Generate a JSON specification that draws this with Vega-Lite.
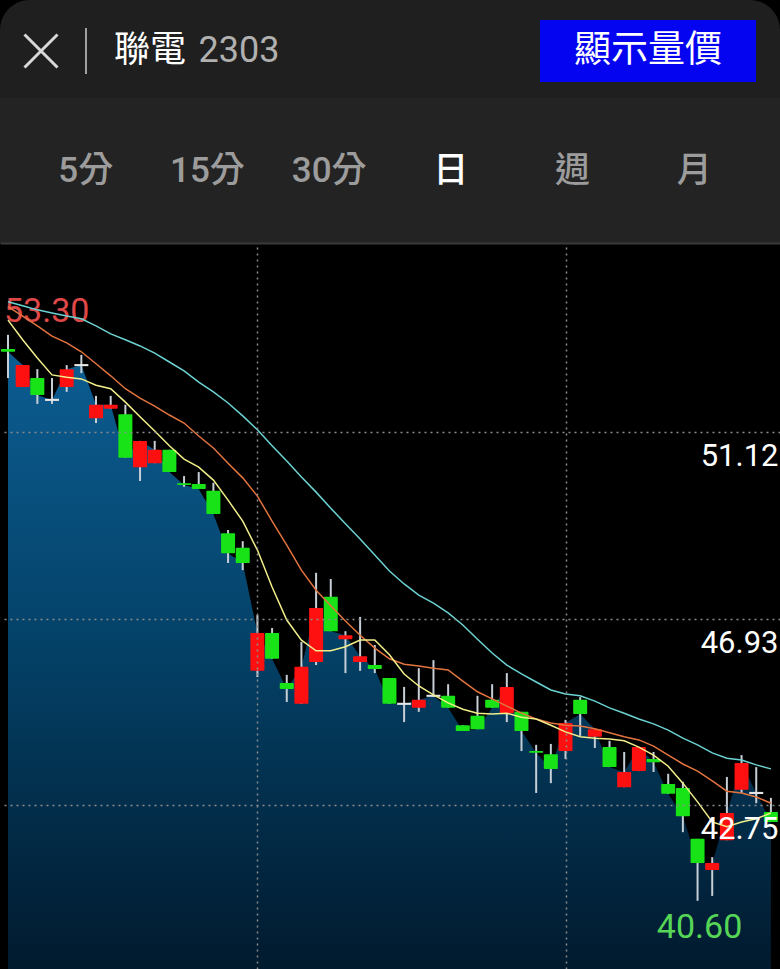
{
  "$schema": "https://vega.github.io/schema/vega-lite/v6.json",
  "background": "#000000",
  "padding": 0,
  "spacing": 0,
  "config": {"view": {"stroke": null}, "concat": {"spacing": 0}},
  "datasets": {
    "candles": [
      {"i":1,"o":52.98,"h":53.30,"l":52.33,"c":52.92,"m5":53.63,"m10":53.93,"m20":54.04},
      {"i":2,"o":52.13,"h":52.62,"l":52.13,"c":52.62,"m5":53.19,"m10":53.72,"m20":53.95},
      {"i":3,"o":52.33,"h":52.53,"l":51.75,"c":51.95,"m5":52.78,"m10":53.50,"m20":53.86},
      {"i":4,"o":51.84,"h":52.33,"l":51.75,"c":51.84,"m5":52.40,"m10":53.27,"m20":53.79},
      {"i":5,"o":52.13,"h":52.62,"l":52.02,"c":52.53,"m5":52.35,"m10":53.12,"m20":53.72},
      {"i":6,"o":52.62,"h":52.85,"l":52.44,"c":52.62,"m5":52.31,"m10":52.92,"m20":53.66},
      {"i":7,"o":51.43,"h":51.93,"l":51.32,"c":51.73,"m5":52.17,"m10":52.65,"m20":53.50},
      {"i":8,"o":51.64,"h":51.93,"l":51.64,"c":51.73,"m5":52.09,"m10":52.38,"m20":53.32},
      {"i":9,"o":51.52,"h":51.73,"l":50.54,"c":50.54,"m5":51.79,"m10":52.09,"m20":53.19},
      {"i":10,"o":50.33,"h":50.92,"l":50.02,"c":50.92,"m5":51.46,"m10":51.88,"m20":53.05},
      {"i":11,"o":50.42,"h":50.92,"l":50.42,"c":50.72,"m5":51.14,"m10":51.70,"m20":52.89},
      {"i":12,"o":50.72,"h":50.72,"l":50.22,"c":50.22,"m5":50.81,"m10":51.50,"m20":52.69},
      {"i":13,"o":49.97,"h":50.13,"l":49.89,"c":49.93,"m5":50.51,"m10":51.32,"m20":52.49},
      {"i":14,"o":49.95,"h":50.22,"l":49.84,"c":49.84,"m5":50.33,"m10":51.03,"m20":52.24},
      {"i":15,"o":49.80,"h":49.98,"l":49.28,"c":49.28,"m5":50.04,"m10":50.76,"m20":52.02},
      {"i":16,"o":48.85,"h":48.92,"l":48.18,"c":48.40,"m5":49.59,"m10":50.42,"m20":51.77},
      {"i":17,"o":48.52,"h":48.67,"l":48.02,"c":48.18,"m5":49.12,"m10":50.09,"m20":51.48},
      {"i":18,"o":45.76,"h":47.01,"l":45.62,"c":46.61,"m5":48.47,"m10":49.68,"m20":51.17},
      {"i":19,"o":46.61,"h":46.72,"l":46.03,"c":46.03,"m5":47.64,"m10":49.12,"m20":50.81},
      {"i":20,"o":45.49,"h":45.67,"l":45.06,"c":45.35,"m5":46.90,"m10":48.58,"m20":50.47},
      {"i":21,"o":45.02,"h":46.41,"l":45.02,"c":45.85,"m5":46.45,"m10":48.02,"m20":50.11},
      {"i":22,"o":45.96,"h":47.96,"l":45.89,"c":47.17,"m5":46.21,"m10":47.57,"m20":49.77},
      {"i":23,"o":47.42,"h":47.82,"l":46.65,"c":46.65,"m5":46.21,"m10":47.22,"m20":49.41},
      {"i":24,"o":46.47,"h":46.65,"l":45.71,"c":46.56,"m5":46.30,"m10":46.88,"m20":49.06},
      {"i":25,"o":45.96,"h":46.97,"l":45.76,"c":46.09,"m5":46.45,"m10":46.56,"m20":48.72},
      {"i":26,"o":45.89,"h":46.34,"l":45.71,"c":45.80,"m5":46.45,"m10":46.27,"m20":48.36},
      {"i":27,"o":45.60,"h":45.60,"l":45.02,"c":45.02,"m5":46.12,"m10":46.03,"m20":48.00},
      {"i":28,"o":45.02,"h":45.40,"l":44.61,"c":45.02,"m5":45.69,"m10":45.91,"m20":47.71},
      {"i":29,"o":44.93,"h":45.82,"l":44.84,"c":45.11,"m5":45.42,"m10":45.87,"m20":47.46},
      {"i":30,"o":45.20,"h":46.00,"l":45.18,"c":45.20,"m5":45.22,"m10":45.82,"m20":47.28},
      {"i":31,"o":45.20,"h":45.46,"l":44.93,"c":44.93,"m5":45.04,"m10":45.78,"m20":47.06},
      {"i":32,"o":44.54,"h":44.54,"l":44.41,"c":44.41,"m5":44.90,"m10":45.53,"m20":46.79},
      {"i":33,"o":44.75,"h":45.20,"l":44.45,"c":44.45,"m5":44.81,"m10":45.29,"m20":46.47},
      {"i":34,"o":45.11,"h":45.46,"l":44.93,"c":44.93,"m5":44.79,"m10":45.13,"m20":46.16},
      {"i":35,"o":44.81,"h":45.71,"l":44.61,"c":45.40,"m5":44.81,"m10":44.97,"m20":45.89},
      {"i":36,"o":44.84,"h":44.84,"l":43.96,"c":44.41,"m5":44.72,"m10":44.81,"m20":45.69},
      {"i":37,"o":43.96,"h":44.10,"l":43.02,"c":43.92,"m5":44.68,"m10":44.68,"m20":45.51},
      {"i":38,"o":43.89,"h":44.12,"l":43.24,"c":43.56,"m5":44.54,"m10":44.59,"m20":45.33},
      {"i":39,"o":43.96,"h":44.66,"l":43.78,"c":44.59,"m5":44.39,"m10":44.54,"m20":45.24},
      {"i":40,"o":45.11,"h":45.17,"l":44.30,"c":44.79,"m5":44.28,"m10":44.52,"m20":45.20},
      {"i":41,"o":44.28,"h":44.45,"l":44.03,"c":44.45,"m5":44.25,"m10":44.46,"m20":45.08},
      {"i":42,"o":44.05,"h":44.19,"l":43.60,"c":43.60,"m5":44.23,"m10":44.37,"m20":44.93},
      {"i":43,"o":43.15,"h":43.94,"l":43.15,"c":43.49,"m5":44.19,"m10":44.28,"m20":44.81},
      {"i":44,"o":43.51,"h":44.05,"l":43.51,"c":44.05,"m5":44.05,"m10":44.21,"m20":44.68},
      {"i":45,"o":43.78,"h":43.94,"l":43.49,"c":43.71,"m5":43.87,"m10":44.07,"m20":44.57},
      {"i":46,"o":43.22,"h":43.45,"l":43.00,"c":43.00,"m5":43.62,"m10":43.87,"m20":44.43},
      {"i":47,"o":43.13,"h":43.27,"l":42.14,"c":42.50,"m5":43.24,"m10":43.67,"m20":44.25},
      {"i":48,"o":41.99,"h":41.99,"l":40.60,"c":41.45,"m5":42.82,"m10":43.51,"m20":44.10},
      {"i":49,"o":41.29,"h":41.58,"l":40.71,"c":41.45,"m5":42.37,"m10":43.29,"m20":43.92},
      {"i":50,"o":41.96,"h":43.38,"l":41.96,"c":42.57,"m5":42.26,"m10":43.06,"m20":43.80},
      {"i":51,"o":43.09,"h":43.87,"l":43.02,"c":43.69,"m5":42.37,"m10":43.02,"m20":43.76},
      {"i":52,"o":43.02,"h":43.60,"l":42.79,"c":43.02,"m5":42.44,"m10":42.93,"m20":43.65},
      {"i":53,"o":42.59,"h":42.91,"l":42.37,"c":42.37,"m5":42.57,"m10":42.79,"m20":43.56}
    ]
  },
  "vconcat": [
    {
      "width": 780,
      "height": 98,
      "layer": [
        {"data": {"values": [{}]}, "mark": {"type": "rect", "color": "#1f1f1f", "cornerRadiusTopLeft": 30, "cornerRadiusTopRight": 30}, "encoding": {}},
        {"data": {"values": [{}]}, "mark": {"type": "point", "shape": "M-1,-1L1,1M1,-1L-1,1", "size": 1089, "filled": false, "stroke": "#d9d9d9", "strokeWidth": 3, "opacity": 1, "xOffset": -349, "yOffset": 2}, "encoding": {}},
        {"data": {"values": [{}]}, "mark": {"type": "point", "shape": "M0,-1L0,1", "size": 2116, "filled": false, "stroke": "#a0a0a0", "strokeWidth": 2, "opacity": 1, "xOffset": -304, "yOffset": 2}, "encoding": {}},
        {"data": {"values": [{}]}, "mark": {"type": "point", "shape": "M-1,-0.287H1V0.287H-1Z", "size": 46656, "filled": true, "color": "#0404f0", "opacity": 1, "xOffset": 258, "yOffset": 2}, "encoding": {}},
        {"data": {"values": [{"t": "聯電"}]}, "mark": {"type": "text", "font": "Noto Sans CJK TC", "fontSize": 36, "color": "#ffffff", "baseline": "middle", "xOffset": -240, "yOffset": 2}, "encoding": {"text": {"field": "t"}}},
        {"data": {"values": [{"t": "2303"}]}, "mark": {"type": "text", "font": "Roboto", "fontSize": 36, "color": "#b0b0b0", "baseline": "middle", "xOffset": -151, "yOffset": 2}, "encoding": {"text": {"field": "t"}}},
        {"data": {"values": [{"t": "顯示量價"}]}, "mark": {"type": "text", "font": "Noto Sans CJK TC", "fontSize": 37, "color": "#ffffff", "baseline": "middle", "xOffset": 258, "yOffset": 2}, "encoding": {"text": {"field": "t"}}}
      ]
    },
    {
      "width": 780,
      "height": 145,
      "layer": [
        {"data": {"values": [{}]}, "mark": {"type": "rect", "color": "#232323"}, "encoding": {}},
        {
          "data": {"values": [{"tab": "5分"}, {"tab": "15分"}, {"tab": "30分"}, {"tab": "日"}, {"tab": "週"}, {"tab": "月"}]},
          "mark": {"type": "text", "font": "Roboto, Noto Sans CJK TC", "fontSize": 35, "fontWeight": 500, "baseline": "middle"},
          "encoding": {
            "x": {"field": "tab", "type": "nominal", "sort": null, "scale": {"type": "point", "padding": 0.705}, "axis": null},
            "text": {"field": "tab"},
            "color": {"condition": {"test": "datum.tab === '日'", "value": "#ffffff"}, "value": "#9c9c9c"}
          }
        }
      ]
    },
    {
      "width": 780,
      "height": 726,
      "data": {"name": "candles"},
      "layer": [
        {
          "mark": {"type": "area", "interpolate": "linear", "stroke": null, "fillOpacity": 1, "fill": {"gradient": "linear", "x1": 0, "y1": 0, "x2": 0, "y2": 1, "stops": [{"offset": 0, "color": "#0c5d92"}, {"offset": 0.45, "color": "#04436a"}, {"offset": 1, "color": "#011a2e"}]}},
          "encoding": {
            "x": {"field": "i", "type": "quantitative", "scale": {"domain": [0.455, 53.62], "nice": false, "zero": false, "padding": 0},
                  "axis": {"orient": "top", "values": [18, 39], "labels": false, "ticks": false, "tickSize": 0, "domain": true, "domainColor": "#3a3a3a", "domainWidth": 2, "grid": true, "gridColor": "#8c8c8c", "gridDash": [2, 4], "gridWidth": 1.5, "title": null, "zindex": 1}},
            "y": {"field": "c", "type": "quantitative", "scale": {"domain": [39.07, 55.36], "nice": false, "zero": false},
                  "axis": {"orient": "right", "values": [51.12, 46.93, 42.75], "format": ".2f", "labelAlign": "right", "labelPadding": -2, "tickSize": 0, "labelBaseline": "alphabetic", "labelOffset": 34, "labelFont": "Roboto", "labelFontSize": 31, "labelColor": "#ffffff", "ticks": false, "domain": false, "grid": true, "gridColor": "#8c8c8c", "gridDash": [2, 4], "gridWidth": 1.5, "title": null, "zindex": 1}},
            "y2": {"datum": 39.07}
          }
        },
        {
          "mark": {"type": "rule", "color": "#c6ced6", "strokeWidth": 2},
          "encoding": {"x": {"field": "i", "type": "quantitative"}, "y": {"field": "l", "type": "quantitative"}, "y2": {"field": "h"}}
        },
        {
          "transform": [{"filter": "datum.o != datum.c"}],
          "mark": {"type": "bar", "size": 14, "cornerRadius": 1},
          "encoding": {
            "x": {"field": "i", "type": "quantitative"},
            "y": {"field": "o", "type": "quantitative"},
            "y2": {"field": "c"},
            "color": {"condition": {"test": "datum.c > datum.o", "value": "#ff1010"}, "value": "#17e317"}
          }
        },
        {
          "transform": [{"filter": "datum.o == datum.c"}],
          "mark": {"type": "point", "shape": "M-1,-0.15H1V0.15H-1Z", "size": 196, "filled": true, "opacity": 1, "color": "#e6e6e6"},
          "encoding": {"x": {"field": "i", "type": "quantitative"}, "y": {"field": "c", "type": "quantitative"}}
        },
        {
          "data": {"values": [{"i": 1, "p": 53.30, "t": "53.30"}]},
          "mark": {"type": "text", "align": "left", "baseline": "alphabetic", "dx": -4, "dy": -13, "font": "Roboto", "fontSize": 34, "color": "#e04848"},
          "encoding": {"x": {"field": "i", "type": "quantitative"}, "y": {"field": "p", "type": "quantitative"}, "text": {"field": "t"}}
        },
        {
          "data": {"values": [{"i": 48, "p": 40.60, "t": "40.60"}]},
          "mark": {"type": "text", "align": "center", "baseline": "alphabetic", "dx": 2, "dy": 37, "font": "Roboto", "fontSize": 34, "color": "#56d656"},
          "encoding": {"x": {"field": "i", "type": "quantitative"}, "y": {"field": "p", "type": "quantitative"}, "text": {"field": "t"}}
        },
        {
          "mark": {"type": "line", "color": "#e2743e", "strokeWidth": 1.5},
          "encoding": {"x": {"field": "i", "type": "quantitative"}, "y": {"field": "m10", "type": "quantitative"}}
        },
        {
          "mark": {"type": "line", "color": "#6cd2d2", "strokeWidth": 1.5},
          "encoding": {"x": {"field": "i", "type": "quantitative"}, "y": {"field": "m20", "type": "quantitative"}}
        },
        {
          "mark": {"type": "line", "color": "#f2ee8a", "strokeWidth": 1.5},
          "encoding": {"x": {"field": "i", "type": "quantitative"}, "y": {"field": "m5", "type": "quantitative"}}
        }
      ]
    }
  ]
}
